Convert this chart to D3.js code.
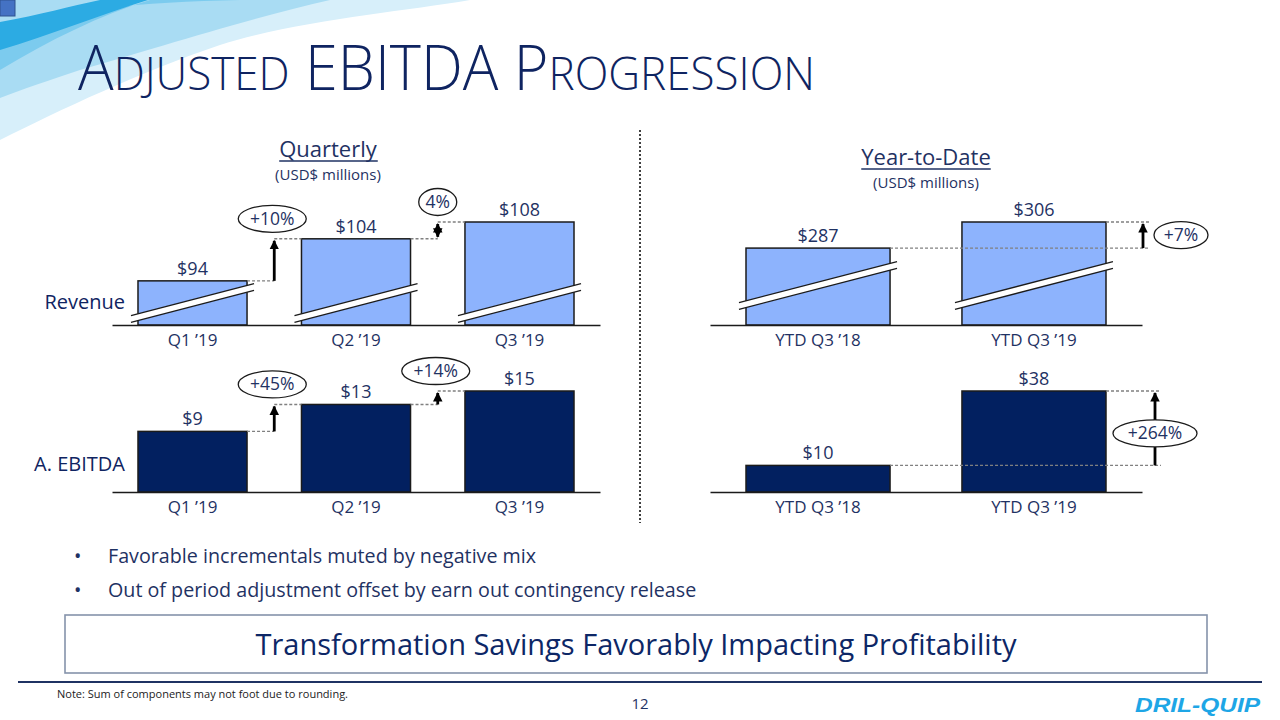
<!DOCTYPE html>
<html>
<head>
<meta charset="utf-8">
<script src="https://cdn.jsdelivr.net/npm/d3@7"></script>
<style>
  html, body { margin: 0; padding: 0; background: #fff; }
  svg { display: block; font-family: "Open Sans", "Noto Sans", sans-serif; }
</style>
</head>
<body>
<svg id="chart" width="1280" height="720"></svg>
<script>
// ---------------- DATA ----------------
const qCategories = ["Q1 \u201919", "Q2 \u201919", "Q3 \u201919"];
const qRevenue = [94, 104, 108];
const qRevenueLabels = ["$94", "$104", "$108"];
const qEbitda = [9, 13, 15];
const qEbitdaLabels = ["$9", "$13", "$15"];
const qRevenueChange = ["+10%", "4%"];
const qEbitdaChange = ["+45%", "+14%"];

const ytdCategories = ["YTD Q3 \u201918", "YTD Q3 \u201919"];
const ytdRevenue = [287, 306];
const ytdRevenueLabels = ["$287", "$306"];
const ytdEbitda = [10, 38];
const ytdEbitdaLabels = ["$10", "$38"];
const ytdRevenueChange = ["+7%"];
const ytdEbitdaChange = ["+264%"];

const bullets = [
  "Favorable incrementals muted by negative mix",
  "Out of period adjustment offset by earn out contingency release"
];
// --------------------------------------

const svg = d3.select("#chart");
const NAVY = "#0f2461";
const TXT = "#1f3263";
const REV_FILL = "#8db3fd";
const EB_FILL = "#022060";
const DASH = "#808080";

// arrow markers
const defs = svg.append("defs");
defs.append("marker").attr("id", "ahEnd").attr("viewBox", "0 0 10 10")
  .attr("refX", 9).attr("refY", 5).attr("markerWidth", 3.4).attr("markerHeight", 3.4)
  .attr("markerUnits", "strokeWidth").attr("orient", "auto")
  .append("path").attr("d", "M0,0 L10,5 L0,10 Z").attr("fill", "#000");
defs.append("marker").attr("id", "ahStart").attr("viewBox", "0 0 10 10")
  .attr("refX", 1).attr("refY", 5).attr("markerWidth", 3.4).attr("markerHeight", 3.4)
  .attr("markerUnits", "strokeWidth").attr("orient", "auto")
  .append("path").attr("d", "M10,0 L0,5 L10,10 Z").attr("fill", "#000");

// ---- decorative swoosh top-left ----
const deco = svg.append("g");
deco.append("path").attr("fill", "#d7effa")
  .attr("d", "M0,0 L470,0 C400,12 300,20 220,45 C140,72 60,110 0,140 Z");
deco.append("path").attr("fill", "#a9dcf3")
  .attr("d", "M0,0 L330,0 C250,18 150,50 80,70 C50,80 20,90 0,98 Z");
deco.append("path").attr("fill", "#7ccbee")
  .attr("d", "M0,28 C60,10 140,2 240,0 L150,0 C100,15 50,40 0,70 Z");
deco.append("path").attr("fill", "#2cabe3")
  .attr("d", "M0,22 C40,15 70,6 100,0 L148,0 C100,15 50,35 0,50 Z");
deco.append("rect").attr("x", 0).attr("y", 0).attr("width", 15).attr("height", 16)
  .attr("fill", "#4472c4").attr("stroke", "#2f528f").attr("stroke-width", 1);

// ---- title ----
const title = svg.append("text").attr("x", 78).attr("y", 90)
  .attr("fill", NAVY).attr("font-weight", 300)
  .attr("textLength", 737).attr("lengthAdjust", "spacingAndGlyphs")
  .attr("font-family", "'Open Sans', 'Noto Sans', sans-serif");
[["A", 62], ["DJUSTED", 46], [" EBITDA P", 62], ["ROGRESSION", 46]].forEach(([t, s]) => {
  title.append("tspan").attr("font-size", s).text(t);
});

// ---- section headers ----
function header(cx, y, label) {
  const t = svg.append("text").attr("x", cx).attr("y", y).attr("text-anchor", "middle")
    .attr("font-size", 22).attr("fill", TXT).text(label);
  const bb = t.node().getBBox();
  svg.append("line").attr("x1", bb.x).attr("x2", bb.x + bb.width)
    .attr("y1", y + 4).attr("y2", y + 4).attr("stroke", TXT).attr("stroke-width", 1.3);
  svg.append("text").attr("x", cx).attr("y", y + 23).attr("text-anchor", "middle")
    .attr("font-size", 15).attr("fill", TXT).text("(USD$ millions)");
}
header(328, 157, "Quarterly");
header(926, 165, "Year-to-Date");

// divider
svg.append("line").attr("x1", 640).attr("x2", 640).attr("y1", 130).attr("y2", 523)
  .attr("stroke", "#404040").attr("stroke-width", 2).attr("stroke-dasharray", "2,2");

// row labels
svg.append("text").attr("x", 125).attr("y", 309).attr("text-anchor", "end")
  .attr("font-size", 20).attr("fill", NAVY).text("Revenue");
svg.append("text").attr("x", 125).attr("y", 471).attr("text-anchor", "end")
  .attr("font-size", 20).attr("fill", NAVY).text("A. EBITDA");

// ---- generic bar panel ----
function panel(opts) {
  const { cats, vals, labels, xRange, pi, po, y, fill, brk, changes, mode } = opts;
  const x = d3.scaleBand().domain(cats).range(xRange).paddingInner(pi).paddingOuter(po);
  const g = svg.append("g");
  const base = y.range()[0];

  g.selectAll("rect.bar").data(vals).join("rect").attr("class", "bar")
    .attr("x", (d, i) => x(cats[i])).attr("width", x.bandwidth())
    .attr("y", d => y(d)).attr("height", d => base - y(d))
    .attr("fill", fill).attr("stroke", "#1b1b1b").attr("stroke-width", 1.5);

  // axis baseline via d3 axis (no ticks)
  const ax = g.append("g").attr("transform", `translate(0,${base})`)
    .call(d3.axisBottom(x).tickSize(0).tickPadding(9));
  ax.select(".domain").attr("stroke", "#1b1b1b").attr("stroke-width", 1.5);
  ax.selectAll("text").attr("font-size", 17).attr("fill", TXT)
    .attr("font-family", "'Open Sans', 'Noto Sans', sans-serif");

  // axis breaks
  if (brk) {
    vals.forEach((d, i) => {
      const x0 = x(cats[i]) - 7, x1 = x(cats[i]) + x.bandwidth() + 7;
      const yl = base - brk, yr = yl - 0.26 * (x1 - x0);
      g.append("line").attr("x1", x0).attr("x2", x1).attr("y1", yl).attr("y2", yr)
        .attr("stroke", "#fff").attr("stroke-width", 6.5);
      [-3.4, 3.4].forEach(o => g.append("line").attr("x1", x0).attr("x2", x1)
        .attr("y1", yl + o).attr("y2", yr + o).attr("stroke", "#1b1b1b").attr("stroke-width", 1.3));
    });
  }

  // value labels
  g.selectAll("text.val").data(vals).join("text").attr("class", "val")
    .attr("x", (d, i) => x(cats[i]) + x.bandwidth() / 2).attr("y", d => y(d) - 6)
    .attr("text-anchor", "middle").attr("font-size", 18).attr("fill", TXT)
    .text((d, i) => labels[i]);

  const dash = (x1, x2, yy) => g.append("line").attr("x1", x1).attr("x2", x2)
    .attr("y1", yy).attr("y2", yy).attr("stroke", DASH).attr("stroke-width", 1.4)
    .attr("stroke-dasharray", "3,2");
  const ell = (cx, cy, w, h, t) => {
    g.append("ellipse").attr("cx", cx).attr("cy", cy).attr("rx", w / 2).attr("ry", h / 2)
      .attr("fill", "#fff").attr("stroke", "#1b1b1b").attr("stroke-width", 1.3);
    g.append("text").attr("x", cx).attr("y", cy + 6).attr("text-anchor", "middle")
      .attr("font-size", 17.5).attr("fill", TXT).text(t);
  };
  const arrow = (ax0, y0, y1, both) => g.append("line").attr("x1", ax0).attr("x2", ax0)
    .attr("y1", y0 - (both ? 2 : 0)).attr("y2", y1 + 2).attr("stroke", "#000").attr("stroke-width", 2.8)
    .attr("marker-end", "url(#ahEnd)").attr("marker-start", both ? "url(#ahStart)" : null);

  if (mode === "seq") {
    changes.forEach((c, i) => {
      const r = x(cats[i]) + x.bandwidth(), l = x(cats[i + 1]);
      const ax0 = (r + l) / 2;
      const ya = y(vals[i]), yb = y(vals[i + 1]);
      dash(r, ax0, ya);
      dash(ax0, l, yb);
      const both = !c.startsWith("+");
      arrow(ax0, ya, yb, both);
      const w = both ? 38 : 68;
      ell(ax0 + (both ? 0 : -2), yb - 20, w, 27, c);
    });
  } else {
    const r0 = x(cats[0]) + x.bandwidth();
    const r1 = x(cats[1]) + x.bandwidth();
    const ya = y(vals[0]), yb = y(vals[1]);
    const ax0 = r1 + opts.arrowOff;
    dash(r0, ax0 + 6, ya);
    dash(r1, ax0 + 6, yb);
    arrow(ax0, ya, yb, false);
    ell(ax0 + opts.ellDx, opts.ellDy === null ? (ya + yb) / 2 : ya + opts.ellDy, opts.ellW, 27, changes[0]);
  }
}

const qX = [112, 600], ytdX = [710, 1142];

panel({ cats: qCategories, vals: qRevenue, labels: qRevenueLabels, xRange: qX, pi: 0.333, po: 0.159,
  y: d3.scaleLinear().domain([83.5, 108]).range([325, 222]), fill: REV_FILL, brk: 6,
  changes: qRevenueChange, mode: "seq" });
panel({ cats: qCategories, vals: qEbitda, labels: qEbitdaLabels, xRange: qX, pi: 0.333, po: 0.159,
  y: d3.scaleLinear().domain([0, 15]).range([492, 391]), fill: EB_FILL, brk: 0,
  changes: qEbitdaChange, mode: "seq" });
panel({ cats: ytdCategories, vals: ytdRevenue, labels: ytdRevenueLabels, xRange: ytdX, pi: 0.333, po: 0.1667,
  y: d3.scaleLinear().domain([231, 306]).range([325, 222]), fill: REV_FILL, brk: 19,
  changes: ytdRevenueChange, mode: "ytd", arrowOff: 37, ellDx: 38, ellDy: null, ellW: 54 });
panel({ cats: ytdCategories, vals: ytdEbitda, labels: ytdEbitdaLabels, xRange: ytdX, pi: 0.333, po: 0.1667,
  y: d3.scaleLinear().domain([0, 38]).range([492, 391]), fill: EB_FILL, brk: 0,
  changes: ytdEbitdaChange, mode: "ytd", arrowOff: 49, ellDx: 0, ellDy: -32, ellW: 84 });

// ---- bullets ----
svg.selectAll("g.bullet").data(bullets).join("g").attr("class", "bullet")
  .each(function (d, i) {
    const yy = 563 + i * 34;
    d3.select(this).append("text").attr("x", 74).attr("y", yy).attr("font-size", 19.7)
      .attr("fill", TXT).text("\u2022");
    d3.select(this).append("text").attr("x", 108).attr("y", yy).attr("font-size", 19.7)
      .attr("fill", TXT).text(d);
  });

// ---- callout box ----
svg.append("rect").attr("x", 65).attr("y", 615).attr("width", 1142).attr("height", 58)
  .attr("fill", "#fff").attr("stroke", "#8593ab").attr("stroke-width", 1.6);
svg.append("text").attr("x", 636).attr("y", 655).attr("text-anchor", "middle")
  .attr("font-size", 29).attr("fill", "#0d2766")
  .text("Transformation Savings Favorably Impacting Profitability");

// ---- footer ----
svg.append("line").attr("x1", 18).attr("x2", 1262).attr("y1", 682).attr("y2", 682)
  .attr("stroke", "#1f3263").attr("stroke-width", 2);
svg.append("text").attr("x", 57).attr("y", 698).attr("font-size", 11).attr("fill", "#222")
  .text("Note: Sum of components may not foot due to rounding.");
svg.append("text").attr("x", 640).attr("y", 709).attr("text-anchor", "middle")
  .attr("font-size", 15).attr("fill", "#1f3263").text("12");
svg.append("text").attr("x", 1135).attr("y", 712).attr("font-size", 21)
  .attr("font-weight", 900).attr("font-style", "italic").attr("fill", "#1ea6e6")
  .attr("font-family", "'Liberation Sans', Arial, sans-serif")
  .attr("textLength", 125).attr("lengthAdjust", "spacingAndGlyphs")
  .text("DRIL-QUIP");
</script>
</body>
</html>
